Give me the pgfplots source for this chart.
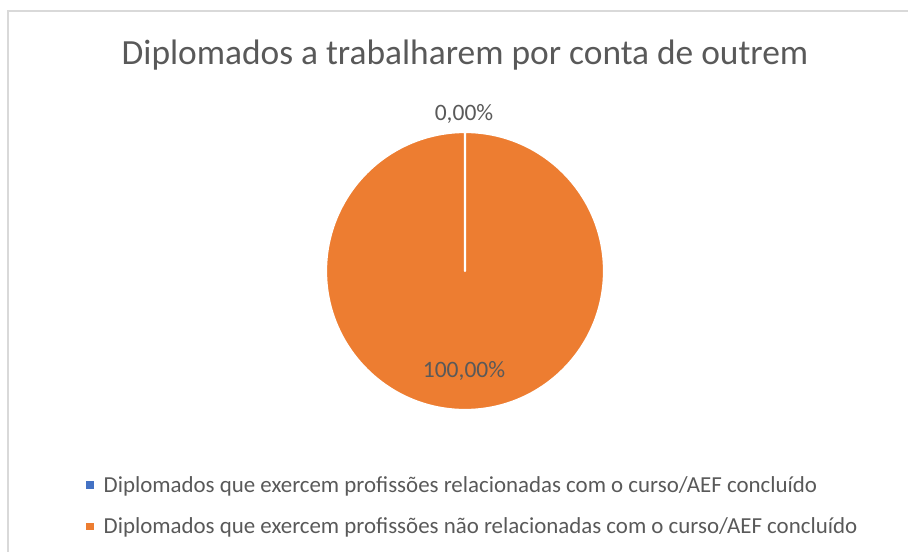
\documentclass[border=0pt]{standalone}
\usepackage{pgfplots}
\usepackage{pgfplotstable}
\usepackage{fontspec}
\setmainfont{Carlito}
\pgfplotsset{compat=1.18}
\definecolor{pieblue}{HTML}{4472C4}
\definecolor{pieorange}{HTML}{ED7D31}
\definecolor{txtgrey}{HTML}{595959}
\definecolor{frame}{HTML}{D9D9D9}
\pgfplotstableread{
label value
rel 0
nrel 100
}\piedata
\pgfplotstablegetelem{0}{value}\of\piedata
\let\vA\pgfplotsretval
\pgfplotstablegetelem{1}{value}\of\piedata
\let\vB\pgfplotsretval
\pgfmathsetmacro{\aS}{90}
\pgfmathsetmacro{\aM}{90-3.6*\vA}
\pgfmathsetmacro{\aE}{\aM-3.6*\vB}
\begin{document}
\begin{tikzpicture}
\begin{axis}[
  width=908bp, height=552bp, scale only axis,
  xmin=0, xmax=908, ymin=0, ymax=552, y dir=reverse,
  hide axis, clip=true,
  legend style={at={(axis cs:86,506)}, anchor=west, draw=none, fill=none,
    font=\fontsize{22.9bp}{26bp}\selectfont, text=txtgrey,
    row sep=20bp, inner sep=0pt, cells={anchor=west},
    /tikz/every odd column/.append style={column sep=8bp}},
  legend cell align=left,
  legend image code/.code={\fill[#1] (0bp,-3.5bp) rectangle (7.5bp,4bp);},
]
\addlegendimage{fill=pieblue, draw=none}
\addlegendentry{Diplomados que exercem profissões relacionadas com o curso/AEF concluído}
\addlegendimage{fill=pieorange, draw=none}
\addlegendentry{Diplomados que exercem profissões não relacionadas com o curso/AEF concluído}
% frame
\draw[frame, line width=1.6bp] (axis cs:8,560) -- (axis cs:8,11) -- (axis cs:920,11);
% slices
\filldraw[fill=pieorange, draw=white, line width=2.2bp, line join=round]
  (axis cs:465,271) -- ++(\aM:139bp) arc[start angle=\aM, end angle=\aE, radius=139bp] -- cycle;
\filldraw[fill=pieblue, draw=white, line width=2.2bp]
  (axis cs:465,271) -- ++(\aS:139bp) arc[start angle=\aS, end angle=\aM, radius=139bp] -- cycle;
% title and labels
\node[text=txtgrey, font=\fontsize{35.4bp}{40bp}\selectfont] at (axis cs:465,55) {Diplomados a trabalharem por conta de outrem};
\node[text=txtgrey, font=\fontsize{23.5bp}{27bp}\selectfont] at (axis cs:464,114) {0,00\%};
\node[text=txtgrey, font=\fontsize{23.5bp}{27bp}\selectfont] at (axis cs:464,371) {100,00\%};
\end{axis}
\pgfresetboundingbox
\path[use as bounding box] (current axis.south west) rectangle (current axis.north east);
\end{tikzpicture}
\end{document}
